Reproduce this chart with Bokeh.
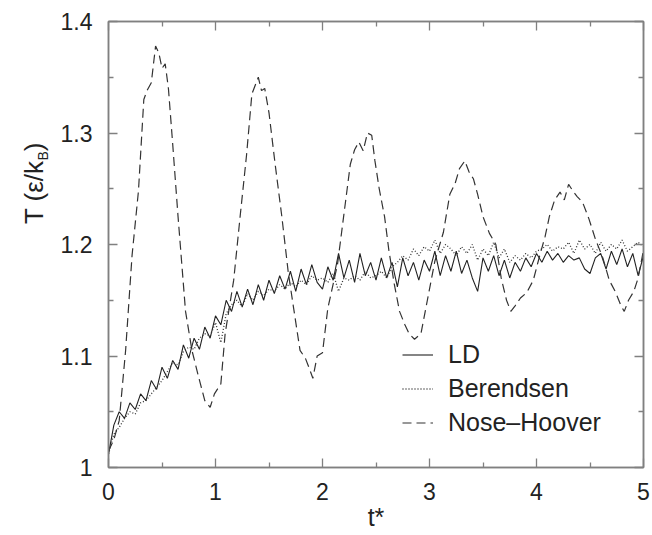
import numpy as np
from math import pi
from bokeh.plotting import figure
from bokeh.layouts import row
from bokeh.models import Range1d, FixedTicker, LinearAxis, Label, Legend, LegendItem
from bokeh.embed import file_html
from bokeh.resources import INLINE

# ---------------- data ----------------
x_ticks = [0, 1, 2, 3, 4, 5]
x_tick_labels = ["0", "1", "2", "3", "4", "5"]
x_minor = [0.5, 1.5, 2.5, 3.5, 4.5]
y_ticks = [1.0, 1.1, 1.2, 1.3, 1.4]
y_tick_labels = ["1", "1.1", "1.2", "1.3", "1.4"]
y_minor = [1.05, 1.15, 1.25, 1.35]

# time grid for LD and Berendsen (step 0.05)
t_grid = np.round(np.arange(0, 5.0001, 0.05), 2)

ld = [1.012, 1.038, 1.050, 1.044, 1.058, 1.052, 1.066, 1.060, 1.078, 1.070,
      1.090, 1.080, 1.096, 1.088, 1.110, 1.098, 1.116, 1.106, 1.126, 1.116,
      1.136, 1.128, 1.150, 1.140, 1.158, 1.144, 1.160, 1.146, 1.164, 1.150,
      1.168, 1.156, 1.172, 1.160, 1.176, 1.158, 1.178, 1.164, 1.182, 1.166,
      1.160, 1.180, 1.168, 1.192, 1.170, 1.186, 1.166, 1.192, 1.172, 1.184,
      1.168, 1.188, 1.170, 1.184, 1.162, 1.188, 1.172, 1.184, 1.168, 1.186,
      1.176, 1.194, 1.172, 1.190, 1.176, 1.194, 1.174, 1.186, 1.170, 1.158,
      1.188, 1.176, 1.190, 1.172, 1.186, 1.170, 1.184, 1.176, 1.188, 1.180,
      1.192, 1.184, 1.194, 1.186, 1.192, 1.184, 1.190, 1.186, 1.188, 1.178,
      1.174, 1.188, 1.192, 1.178, 1.194, 1.182, 1.196, 1.180, 1.192, 1.172,
      1.190]

berendsen = [1.012, 1.030, 1.036, 1.044, 1.050, 1.048, 1.058, 1.060, 1.066, 1.072,
             1.078, 1.086, 1.094, 1.092, 1.104, 1.108, 1.106, 1.116, 1.120, 1.118,
             1.130, 1.112, 1.138, 1.146, 1.150, 1.144, 1.156, 1.150, 1.158, 1.154,
             1.160, 1.158, 1.164, 1.160, 1.166, 1.162, 1.168, 1.164, 1.172, 1.168,
             1.170, 1.166, 1.174, 1.158, 1.170, 1.168, 1.172, 1.168, 1.176, 1.170,
             1.172, 1.176, 1.170, 1.180, 1.184, 1.190, 1.186, 1.196, 1.190, 1.198,
             1.194, 1.204, 1.192, 1.200, 1.196, 1.190, 1.198, 1.192, 1.200, 1.186,
             1.196, 1.190, 1.202, 1.188, 1.196, 1.184, 1.190, 1.186, 1.192, 1.188,
             1.194, 1.196, 1.200, 1.194, 1.198, 1.196, 1.202, 1.192, 1.204, 1.196,
             1.200, 1.192, 1.202, 1.194, 1.200, 1.196, 1.204, 1.194, 1.198, 1.202,
             1.198]

nh_t = [0.00, 0.05, 0.10, 0.16, 0.22, 0.28, 0.33, 0.36, 0.40, 0.44, 0.47, 0.50, 0.53,
        0.56, 0.60, 0.65, 0.72, 0.78, 0.84, 0.90, 0.95, 0.99, 1.05, 1.09, 1.17, 1.23,
        1.29, 1.34, 1.40, 1.43, 1.46, 1.50, 1.56, 1.62, 1.68, 1.73, 1.79, 1.84, 1.88,
        1.91, 1.95, 2.00, 2.05, 2.14, 2.20, 2.26, 2.30, 2.34, 2.38, 2.42, 2.46, 2.49,
        2.53, 2.58, 2.62, 2.67, 2.72, 2.77, 2.81, 2.86, 2.92, 2.98, 3.05, 3.13, 3.19,
        3.24, 3.28, 3.33, 3.37, 3.41, 3.45, 3.50, 3.56, 3.62, 3.67, 3.72, 3.76, 3.80,
        3.85, 3.91, 3.97, 4.03, 4.08, 4.12, 4.17, 4.22, 4.26, 4.30, 4.34, 4.38, 4.43,
        4.49, 4.55, 4.62, 4.68, 4.74, 4.79, 4.82, 4.86, 4.91, 4.95, 5.00]
nh = [1.015, 1.025, 1.042, 1.105, 1.190, 1.248, 1.330, 1.338, 1.345, 1.378, 1.372, 1.358, 1.362,
      1.340, 1.290, 1.225, 1.140, 1.105, 1.082, 1.060, 1.054, 1.066, 1.075, 1.120, 1.168, 1.225,
      1.280, 1.335, 1.350, 1.338, 1.340, 1.318, 1.270, 1.225, 1.175, 1.143, 1.105, 1.098, 1.088,
      1.080, 1.100, 1.103, 1.143, 1.182, 1.227, 1.272, 1.285, 1.292, 1.284, 1.300, 1.298, 1.275,
      1.250, 1.225, 1.195, 1.165, 1.140, 1.128, 1.120, 1.115, 1.120, 1.150, 1.185, 1.211, 1.245,
      1.255, 1.268, 1.275, 1.265, 1.259, 1.245, 1.225, 1.210, 1.200, 1.170, 1.150, 1.140, 1.145,
      1.152, 1.157, 1.168, 1.190, 1.207, 1.225, 1.240, 1.247, 1.240, 1.254, 1.248, 1.243, 1.238,
      1.223, 1.205, 1.188, 1.168, 1.157, 1.145, 1.140, 1.150, 1.158, 1.170, 1.195]

series_names = ["LD", "Berendsen", "Nose\u2013Hoover"]
x_title = "t*"
y_title_parts = ["T (\u03b5/k", "B", ")"]

# ---------------- styling ----------------
FONT = "Liberation Sans"
TXT = "#222222"
FRAME = "#808080"
H = 535
LEFT_STRIP = 50

# narrow strip holding the y-axis title (T (ε/k_B)), so the subscript can be set
ylab = figure(width=LEFT_STRIP, height=H, output_backend="svg", toolbar_location=None,
              x_axis_type=None, y_axis_type=None, min_border=0,
              x_range=Range1d(0, 1), y_range=Range1d(0, 1))
ylab.outline_line_color = None
ylab.grid.visible = False
common = dict(x_units="screen", y_units="screen", angle=pi / 2, text_font=FONT,
              text_color=TXT, text_align="right", text_baseline="alphabetic")
ylab.add_layout(Label(x=33, y=307, text=y_title_parts[0], text_font_size="26px", **common))
ylab.add_layout(Label(x=42, y=316.3, text=y_title_parts[1], text_font_size="14px", **common))
ylab.add_layout(Label(x=33, y=325, text=y_title_parts[2], text_font_size="26px", **common))

# main plot
p = figure(width=652 - LEFT_STRIP, height=H, output_backend="svg", toolbar_location=None,
           x_range=Range1d(0, 5), y_range=Range1d(1.0, 1.4),
           min_border_left=108 - LEFT_STRIP, min_border_right=9,
           min_border_top=21, min_border_bottom=68)
p.grid.visible = False
p.outline_line_color = FRAME
p.outline_line_width = 1.5

r_ld = p.line(t_grid, ld, line_color="#222222", line_width=1.1)
r_be = p.line(t_grid, berendsen, line_color="#333333", line_width=1.3, line_dash="1 2")
r_nh = p.line(nh_t, nh, line_color="#333333", line_width=1.2, line_dash="9 5")

xt = FixedTicker(ticks=x_ticks, minor_ticks=x_minor)
yt = FixedTicker(ticks=y_ticks, minor_ticks=y_minor)


def style(ax, labels):
    ax.axis_line_color = FRAME
    ax.axis_line_width = 1.5
    ax.major_tick_line_color = FRAME
    ax.minor_tick_line_color = FRAME
    ax.major_tick_line_width = 1.3
    ax.minor_tick_line_width = 1.3
    ax.major_tick_in = 9
    ax.major_tick_out = 0
    ax.minor_tick_in = 5
    ax.minor_tick_out = 0
    ax.major_label_text_font = FONT
    ax.major_label_text_font_size = "23px"
    ax.major_label_text_color = TXT
    ax.major_label_overrides = labels


p.xaxis.ticker = xt
p.yaxis.ticker = yt
style(p.xaxis[0], {v: s for v, s in zip(x_ticks, x_tick_labels)})
style(p.yaxis[0], {v: s for v, s in zip(y_ticks, y_tick_labels)})
p.xaxis.major_label_standoff = 15
p.yaxis.major_label_standoff = 16

p.xaxis.axis_label = x_title
p.xaxis.axis_label_text_font = FONT
p.xaxis.axis_label_text_font_size = "25px"
p.xaxis.axis_label_text_font_style = "normal"
p.xaxis.axis_label_text_color = TXT
p.xaxis.axis_label_standoff = 0

top = LinearAxis(ticker=xt)
style(top, {v: "" for v in x_ticks})
top.major_label_text_font_size = "1px"
top.major_label_standoff = 0
p.add_layout(top, "above")

right = LinearAxis(ticker=yt)
style(right, {v: "" for v in y_ticks})
right.major_label_text_font_size = "1px"
right.major_label_standoff = 0
p.add_layout(right, "right")

legend = Legend(items=[LegendItem(label=series_names[0], renderers=[r_ld]),
                       LegendItem(label=series_names[1], renderers=[r_be]),
                       LegendItem(label=series_names[2], renderers=[r_nh])],
                location=(294, 30))
legend.label_text_font = FONT
legend.label_text_font_size = "25px"
legend.label_text_color = TXT
legend.glyph_width = 31
legend.glyph_height = 27
legend.label_height = 27
legend.label_standoff = 15
legend.spacing = 5
legend.padding = 0
legend.margin = 0
legend.border_line_alpha = 0
legend.background_fill_alpha = 0
p.add_layout(legend)

layout = row(ylab, p)
open("out.html", "w").write(file_html(layout, INLINE))
